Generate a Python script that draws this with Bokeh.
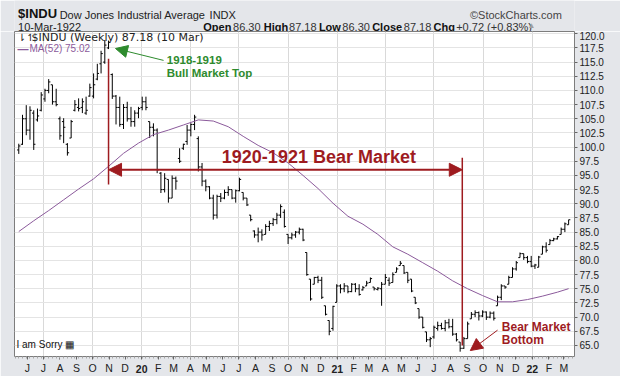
import pandas as pd
from bokeh.plotting import figure
from bokeh.layouts import column
from bokeh.models import (Range1d, FixedTicker, Label, Arrow, NormalHead, LinearAxis,
                          ColumnDataSource, PrintfTickFormatter)
from bokeh.embed import file_html
from bokeh.resources import INLINE

# ---------------- data (weekly bars, week ending Friday) ----------------
week_end = pd.date_range("1919-05-16", "1922-03-10", freq="7D")

opens = [99.5, 100.5, 105.0, 103.0, 106.0, 104.8, 106.5, 108.5, 110.0, 111.0,
         108.0, 105.0, 104.5, 100.5, 101.6, 106.5, 107.0, 107.0, 106.0, 109.0,
         109.0, 112.0, 114.7, 115.0, 117.5, 112.8, 109.0, 107.0, 104.0, 107.0,
         105.0, 104.5, 106.0, 107.0, 108.0, 104.5, 103.5, 103.0, 95.4, 92.5,
         94.3, 91.0, 94.5, 98.0, 99.8, 101.0, 103.0, 104.0, 101.5, 96.5,
         94.0, 93.0, 91.0, 88.0, 91.3, 91.0, 92.0, 92.5, 91.0, 92.3,
         92.0, 91.0, 88.0, 85.2, 84.5, 85.0, 84.6, 86.0, 86.5, 87.2,
         88.0, 88.5, 84.6, 84.0, 84.5, 85.0, 85.5, 81.4, 76.7, 75.8,
         77.0, 76.5, 72.0, 69.4, 68.0, 72.6, 75.5, 75.0, 75.5, 74.5,
         75.8, 75.0, 74.8, 75.5, 76.1, 75.3, 74.9, 75.0, 75.8, 76.5,
         76.1, 77.9, 79.1, 79.1, 77.9, 76.7, 73.5, 71.5, 70.0, 67.4,
         66.0, 66.5, 68.0, 68.5, 68.0, 69.0, 68.3, 67.0, 65.6, 64.5,
         66.2, 69.7, 70.5, 70.8, 70.2, 70.9, 70.0, 70.7, 72.0, 73.5,
         75.5, 75.8, 77.0, 78.5, 80.5, 81.2, 80.5, 79.8, 79.0, 78.8,
         81.1, 82.4, 82.8, 83.5, 83.8, 84.6, 85.5, 86.30]
highs = [100.6, 105.7, 107.4, 107.2, 106.5, 106.8, 109.7, 110.3, 112.0, 111.0,
         110.3, 105.4, 105.1, 100.7, 104.8, 108.3, 108.6, 108.6, 108.9, 111.2,
         113.0, 114.7, 117.0, 118.9, 118.8, 113.0, 109.2, 108.9, 107.6, 108.0,
         107.1, 106.5, 107.1, 108.9, 108.9, 104.5, 104.2, 103.3, 95.6, 95.4,
         94.3, 95.0, 94.8, 99.8, 100.6, 103.9, 104.2, 105.7, 101.9, 97.2,
         94.3, 93.1, 91.6, 91.6, 91.9, 92.5, 93.1, 92.5, 92.5, 94.6,
         92.0, 91.0, 88.0, 85.3, 85.8, 85.5, 86.4, 87.0, 87.5, 88.4,
         89.9, 89.0, 84.6, 84.9, 85.2, 85.8, 85.6, 81.4, 76.7, 77.1,
         77.3, 77.1, 72.0, 69.4, 72.0, 75.8, 75.8, 76.0, 75.5, 76.0,
         76.0, 75.8, 75.5, 76.4, 77.0, 75.3, 75.3, 76.2, 77.6, 77.0,
         77.9, 78.8, 79.9, 79.1, 77.9, 76.7, 73.5, 71.5, 70.0, 67.4,
         66.5, 68.5, 69.2, 69.0, 69.5, 69.7, 69.7, 67.2, 65.6, 66.5,
         69.2, 70.9, 71.2, 71.0, 71.2, 71.0, 71.0, 71.0, 73.8, 75.8,
         75.5, 77.3, 78.8, 79.9, 81.4, 81.2, 80.8, 80.8, 79.4, 80.8,
         82.6, 83.2, 83.8, 84.0, 84.3, 85.8, 86.7, 87.18]
lows = [98.8, 100.4, 102.1, 101.3, 99.5, 104.5, 106.3, 108.0, 109.5, 107.5,
        107.2, 101.3, 100.7, 98.5, 101.6, 106.3, 106.3, 106.0, 105.7, 108.9,
        108.6, 111.8, 113.0, 114.7, 117.3, 108.5, 104.0, 103.6, 103.2, 104.5,
        103.6, 103.6, 105.1, 106.5, 106.5, 101.6, 101.9, 95.4, 91.9, 92.0,
        90.2, 91.0, 92.5, 97.2, 99.5, 100.4, 101.9, 103.0, 95.7, 93.1,
        92.2, 90.8, 87.2, 87.4, 90.3, 90.8, 91.4, 90.8, 90.2, 92.2,
        90.6, 89.6, 86.9, 84.0, 83.2, 83.5, 84.6, 85.2, 86.1, 86.4,
        87.5, 85.8, 82.9, 83.7, 84.0, 84.6, 83.4, 77.3, 72.9, 75.8,
        76.0, 73.2, 70.3, 66.8, 67.6, 72.6, 74.2, 74.4, 74.2, 74.4,
        74.4, 73.8, 74.7, 75.5, 76.1, 74.7, 74.7, 72.0, 75.8, 75.5,
        76.1, 77.9, 79.1, 77.6, 76.0, 74.4, 72.3, 69.7, 68.0, 65.6,
        64.7, 66.2, 67.6, 67.8, 67.5, 68.0, 66.7, 65.7, 63.9, 64.4,
        66.2, 69.7, 70.0, 69.4, 70.0, 69.5, 69.8, 69.4, 72.0, 73.0,
        75.0, 75.8, 77.0, 78.2, 80.5, 80.1, 79.5, 78.8, 78.5, 78.8,
        81.1, 81.4, 82.8, 83.4, 83.7, 84.6, 85.0, 86.30]
closes = [100.2, 105.0, 103.0, 106.5, 100.5, 105.5, 109.2, 110.0, 111.5, 108.0,
          107.5, 102.0, 103.5, 99.0, 104.5, 107.5, 106.8, 108.0, 106.5, 110.5,
          111.0, 113.0, 116.5, 118.0, 118.5, 109.0, 107.0, 104.0, 107.0, 105.0,
          104.5, 106.0, 106.8, 108.0, 107.0, 103.5, 103.0, 96.0, 92.5, 94.5,
          91.0, 94.5, 94.0, 97.5, 100.5, 103.0, 104.0, 105.3, 96.5, 94.0,
          93.0, 91.0, 88.0, 91.3, 91.0, 92.0, 92.5, 91.0, 92.3, 94.3,
          91.0, 89.8, 87.2, 84.5, 85.0, 84.5, 86.0, 86.5, 87.2, 88.0,
          89.5, 86.0, 84.0, 84.5, 85.0, 85.5, 83.6, 77.5, 73.2, 77.0,
          76.5, 73.5, 70.5, 67.5, 71.9, 75.5, 75.0, 75.5, 74.5, 75.8,
          75.0, 74.0, 75.2, 76.0, 76.8, 75.0, 75.1, 75.8, 77.0, 76.0,
          77.5, 78.5, 79.5, 77.8, 76.5, 74.6, 72.5, 70.0, 68.2, 66.0,
          66.2, 68.2, 68.5, 68.0, 69.0, 68.3, 67.0, 66.0, 64.5, 66.2,
          68.8, 70.5, 70.8, 70.2, 70.9, 70.0, 70.7, 69.8, 73.5, 75.5,
          75.3, 77.0, 78.5, 79.6, 81.2, 80.5, 79.8, 79.0, 79.2, 80.6,
          82.4, 81.8, 83.5, 83.8, 84.2, 85.5, 86.46, 87.18]

# 52-week moving average, read at every 4th week
ma_week_index = [0, 4, 8, 12, 16, 20, 24, 28, 32, 36, 40, 44, 48, 52, 56, 60,
                 64, 68, 72, 76, 80, 84, 88, 92, 96, 100, 104, 108, 112, 116,
                 120, 124, 128, 132, 136, 140, 144, 147]
ma52 = [85.1, 87.0, 88.8, 90.7, 92.6, 94.4, 96.6, 98.9, 100.7, 102.2, 103.0,
        103.9, 104.8, 104.6, 103.6, 101.9, 100.3, 99.0, 97.2, 95.0, 92.7, 90.1,
        87.8, 86.4, 84.6, 82.4, 81.1, 79.6, 78.1, 76.4, 75.0, 73.8, 72.7, 72.7,
        73.1, 73.7, 74.4, 75.02]

month_starts = pd.date_range("1919-06-01", "1922-03-01", freq="MS")
month_labels = ["J", "J", "A", "S", "O", "N", "D", "20", "F", "M", "A", "M",
                "J", "J", "A", "S", "O", "N", "D", "21", "F", "M", "A", "M",
                "J", "J", "A", "S", "O", "N", "D", "22", "F", "M"]
price_ticks = [65.0, 67.5, 70.0, 72.5, 75.0, 77.5, 80.0, 82.5, 85.0, 87.5,
               90.0, 92.5, 95.0, 97.5, 100.0, 102.5, 105.0, 107.5, 110.0,
               112.5, 115.0, 117.5, 120.0]


def ms(d):
    return int(pd.Timestamp(d).value // 10**6)


RED = "#9e1b1f"
GREEN = "#2e8b2e"
PURPLE = "#8b5a9b"
FONT = "Liberation Sans"
BORDER = "#e4e6ea"

# ---------------- header strip ----------------
HEAD_H = 31
head = figure(width=620, height=HEAD_H, output_backend="svg", toolbar_location=None,
              x_range=Range1d(0, 620), y_range=Range1d(HEAD_H, 0),
              x_axis_type=None, y_axis_type=None, min_border=0)
head.background_fill_color = BORDER
head.border_fill_color = BORDER
head.outline_line_color = None
head.grid.visible = False


def htxt(text, x, y, size="11px", bold=False, color="#222", align="left"):
    head.add_layout(Label(x=x, y=y, text=text, text_font=FONT, text_font_size=size,
                          text_font_style="bold" if bold else "normal",
                          text_color=color, text_align=align, text_baseline="middle"))


htxt("$INDU", 4, 13, size="13px", bold=True, color="#111")
htxt("Dow Jones Industrial Average", 50, 14)
htxt("INDX", 216, 14)
htxt("\u00a9StockCharts.com", 606, 14, color="#444", align="right")
htxt("10-Mar-1922", 4, 26)
for txt, cx, bold in [("Open", 209, True), ("86.30", 242, False), ("High", 276, True),
                      ("87.18", 304, False), ("Low", 337, True), ("86.30", 363, False),
                      ("Close", 396, True), ("87.18", 431, False), ("Chg", 464, True),
                      ("+0.72 (+0.83%)", 489, False)]:
    htxt(txt, cx, 26, bold=bold, color="#111" if bold else "#333")
htxt("\u25b2", 568, 25, size="8px", color="#a0a0a0")

# ---------------- main chart ----------------
p = figure(width=620, height=376 - HEAD_H, output_backend="svg", toolbar_location=None,
           y_axis_location="right",
           x_range=Range1d(ms("1919-05-08"), ms("1922-03-21")),
           y_range=Range1d(63.05, 120.4),
           min_border_left=14, min_border_right=46,
           min_border_top=0, min_border_bottom=18)
p.background_fill_color = "white"
p.border_fill_color = BORDER
p.outline_line_color = "#7d7d7d"

month_ms = [ms(d) for d in month_starts]
week_ms = [ms(d) for d in pd.date_range("1919-05-09", "1922-03-17", freq="7D")]
xax = p.xaxis[0]
xax.ticker = FixedTicker(ticks=month_ms, minor_ticks=week_ms)
xax.major_label_overrides = {t: ("" if lab.isdigit() else lab)
                             for t, lab in zip(month_ms, month_labels)}
xax.axis_line_color = None
xax.major_tick_out = 3
xax.major_tick_in = 0
xax.minor_tick_out = 2
xax.minor_tick_in = 0
xax.major_tick_line_color = "#666"
xax.minor_tick_line_color = "#aaa"
xax.major_label_standoff = 2
xax.major_label_text_font = FONT
xax.major_label_text_font_size = "10.5px"
xax.major_label_text_color = "#222"

# bold year labels on a second axis, pulled up into the month row
year_ms = [t for t, lab in zip(month_ms, month_labels) if lab.isdigit()]
year_axis = LinearAxis(ticker=FixedTicker(ticks=year_ms),
                       major_label_overrides={t: lab for t, lab in zip(month_ms, month_labels)
                                              if lab.isdigit()},
                       axis_line_color=None, major_tick_line_color=None,
                       minor_tick_line_color=None, major_tick_out=0, major_tick_in=0,
                       major_label_standoff=-12,
                       major_label_text_font=FONT, major_label_text_font_size="10.5px",
                       major_label_text_font_style="bold", major_label_text_color="#222")
p.add_layout(year_axis, "below")

yax = p.yaxis[0]
yax.ticker = FixedTicker(ticks=price_ticks)
yax.formatter = PrintfTickFormatter(format="%.1f")
yax.axis_line_color = None
yax.major_tick_out = 3
yax.major_tick_in = 0
yax.minor_tick_line_color = None
yax.major_tick_line_color = "#666"
yax.major_label_standoff = 2
yax.major_label_text_font = FONT
yax.major_label_text_font_size = "10px"
yax.major_label_text_color = "#222"

quarter_ms = [ms(d) for d in month_starts if d.month in (1, 4, 7, 10)]
p.xgrid[0].ticker = FixedTicker(ticks=quarter_ms)
p.xgrid[0].grid_line_color = "#d9d9d9"
p.ygrid[0].grid_line_color = "#e4e4e4"

# price bars
t = [ms(d) for d in week_end]
tick = 3.2 * 86400000
src = ColumnDataSource(dict(t=t, tl=[v - tick for v in t], tr=[v + tick for v in t],
                            o=opens, h=highs, l=lows, c=closes))
p.segment(x0="t", y0="l", x1="t", y1="h", source=src, line_color="black", line_width=1)
p.segment(x0="tl", y0="o", x1="t", y1="o", source=src, line_color="black", line_width=1)
p.segment(x0="t", y0="c", x1="tr", y1="c", source=src, line_color="black", line_width=1)

# moving average
p.line(x=[t[i] for i in ma_week_index], y=ma52, line_color=PURPLE, line_width=1)

# ---------------- annotations ----------------
top_date, bottom_date = ms("1919-10-31"), ms("1921-08-23")
p.segment(x0=[top_date], y0=[115.6], x1=[top_date], y1=[93.4],
          line_color=RED, line_width=1.5)
p.segment(x0=[bottom_date], y0=[98.1], x1=[bottom_date], y1=[65.0],
          line_color=RED, line_width=1.5)
p.add_layout(Arrow(start=NormalHead(size=13, fill_color=RED, line_color=RED),
                   end=NormalHead(size=13, fill_color=RED, line_color=RED),
                   x_start=top_date, y_start=96.0, x_end=bottom_date, y_end=96.0,
                   line_color=RED, line_width=2))
p.add_layout(Label(x=ms("1920-05-30"), y=98.3, text="1920-1921 Bear Market",
                   text_font=FONT, text_font_size="18px", text_font_style="bold",
                   text_color=RED, text_baseline="middle"))

p.add_layout(Arrow(end=NormalHead(size=12, fill_color=GREEN, line_color=GREEN),
                   x_start=ms("1920-02-11"), y_start=115.3,
                   x_end=ms("1919-11-13"), y_end=117.4,
                   line_color=GREEN, line_width=1))
p.add_layout(Label(x=ms("1920-02-17"), y=115.3, text="1918-1919", text_font=FONT,
                   text_font_size="11.5px", text_font_style="bold",
                   text_color=GREEN, text_baseline="middle"))
p.add_layout(Label(x=ms("1920-02-17"), y=113.1, text="Bull Market Top", text_font=FONT,
                   text_font_size="11.5px", text_font_style="bold",
                   text_color=GREEN, text_baseline="middle"))

p.add_layout(Arrow(end=NormalHead(size=12, fill_color=RED, line_color=RED),
                   x_start=ms("1921-10-28"), y_start=67.7,
                   x_end=ms("1921-09-07"), y_end=64.1,
                   line_color=RED, line_width=1))
p.add_layout(Label(x=ms("1921-11-05"), y=68.2, text="Bear Market", text_font=FONT,
                   text_font_size="12px", text_font_style="bold",
                   text_color=RED, text_baseline="middle"))
p.add_layout(Label(x=ms("1921-11-05"), y=66.0, text="Bottom", text_font=FONT,
                   text_font_size="12px", text_font_style="bold",
                   text_color=RED, text_baseline="middle"))

# legend texts inside the frame (screen px from frame's bottom-left)
FL, FB = 14, 376 - HEAD_H - 18


def scr(text, cx, cy, size="11px", bold=False, color="#222", font=FONT):
    p.add_layout(Label(x=cx - FL, y=FB - (cy - HEAD_H), x_units="screen", y_units="screen",
                       text=text, text_font=font, text_font_size=size,
                       text_font_style="bold" if bold else "normal",
                       text_color=color, text_baseline="middle"))


scr("\u21c2\u21bf", 17, 39, size="10px", color="#222", font="DejaVu Sans")
scr("$INDU (Weekly) 87.18 (10 Mar)", 31, 39, size="11px", color="#222",
    font="DejaVu Sans")
scr("\u2014", 17, 50, size="11px", bold=True, color=PURPLE)
scr("MA(52) 75.02", 29, 50, size="10px", color=PURPLE)
scr("I am Sorry \u25a6", 16, 346, size="10px", color="#111")

layout = column(head, p, spacing=0)
open("out.html", "w").write(file_html(layout, INLINE))
